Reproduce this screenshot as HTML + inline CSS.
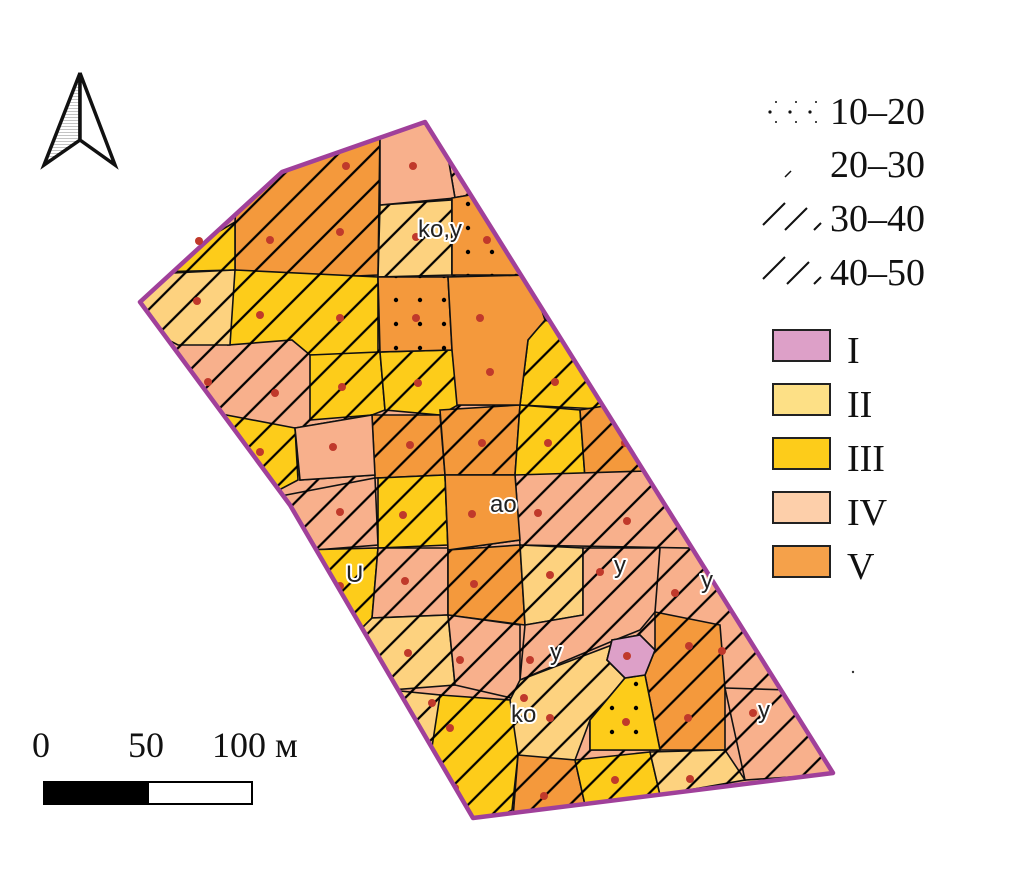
<!DOCTYPE html>
<html><head><meta charset="utf-8"><style>
html,body{margin:0;padding:0;background:#fff}
svg{display:block}
text{font-family:"Liberation Serif",serif;fill:#111}
.lb{font-family:"Liberation Sans",sans-serif;font-size:24px;fill:#222;stroke:#fff;stroke-width:4px;paint-order:stroke;stroke-linejoin:round}
</style></head><body>
<svg width="1011" height="874" viewBox="0 0 1011 874" xmlns="http://www.w3.org/2000/svg">
<defs>
<clipPath id="out"><polygon points="140,302 282,172 425,122 833,773 473,818 290,505"/></clipPath>
<pattern id="h" width="24" height="24" patternUnits="userSpaceOnUse" patternTransform="rotate(-45)">
<line x1="0" y1="12" x2="24" y2="12" stroke="#000" stroke-width="2.2"/></pattern>
<pattern id="d" width="24" height="24" patternUnits="userSpaceOnUse">
<circle cx="12" cy="12" r="2.2" fill="#000"/></pattern>
<pattern id="g" width="3" height="3" patternUnits="userSpaceOnUse"><line x1="0" y1="0" x2="3" y2="0" stroke="#888" stroke-width="1"/></pattern>
</defs>
<g clip-path="url(#out)" stroke="#111" stroke-width="1.6">
<rect x="130" y="110" width="720" height="720" fill="#f8b08c" stroke="none"/>
<polygon fill="#f4993c" points="240,140 380,130 378,275 310,278 235,270 235,222"/>
<polygon fill="#fdcc1a" points="150,272 235,222 235,270"/>
<polygon fill="#f8b08c" points="380,130 440,110 455,198 380,205"/>
<polygon fill="#fdd27f" points="380,205 452,200 452,275 378,277"/>
<polygon fill="#f4993c" points="452,198 500,190 530,275 452,275"/>
<polygon fill="#fdcc1a" points="235,270 378,277 378,355 310,355 292,340 228,345 230,300"/>
<polygon fill="#fdd27f" points="130,275 235,270 230,345 178,345 130,320"/>
<polygon fill="#f4993c" points="378,277 448,277 452,350 380,352"/>
<polygon fill="#f4993c" points="448,277 530,275 545,320 528,340 520,405 457,405 452,350"/>
<polygon fill="#fdcc1a" points="545,320 600,340 620,410 520,405 528,340"/>
<polygon fill="#fdcc1a" points="310,355 380,352 385,410 372,415 310,420"/>
<polygon fill="#fdcc1a" points="380,352 452,350 458,405 440,415 385,410"/>
<polygon fill="#fdcc1a" points="200,410 295,428 298,480 260,500"/>
<polygon fill="#f8b08c" points="295,428 372,415 375,475 300,480"/>
<polygon fill="#f4993c" points="372,415 440,415 445,475 375,478"/>
<polygon fill="#f4993c" points="440,410 520,405 515,475 445,475"/>
<polygon fill="#fdcc1a" points="520,405 580,410 585,478 515,475"/>
<polygon fill="#f4993c" points="580,410 640,400 660,470 585,478"/>
<polygon fill="#f8b08c" points="260,500 375,478 378,545 315,550"/>
<polygon fill="#fdcc1a" points="378,478 445,475 448,545 378,548"/>
<polygon fill="#f4993c" points="445,475 515,475 520,540 448,550"/>
<polygon fill="#f8b08c" points="515,475 680,470 690,548 520,545"/>
<polygon fill="#fdcc1a" points="300,550 378,548 372,618 340,650"/>
<polygon fill="#f8b08c" points="378,548 448,548 448,615 372,618"/>
<polygon fill="#f4993c" points="448,550 520,545 525,625 448,615"/>
<polygon fill="#fdd27f" points="520,545 583,548 583,615 525,625"/>
<polygon fill="#f8b08c" points="583,548 660,548 655,612 640,630 615,640 520,680 525,625 583,615"/>
<polygon fill="#fdd27f" points="340,650 372,618 448,615 455,685 390,690"/>
<polygon fill="#f8b08c" points="448,615 520,625 520,700 455,685"/>
<polygon fill="#f4993c" points="655,612 720,625 725,688 725,750 650,750 645,675 655,650"/>
<polygon fill="#fdd27f" points="520,680 612,645 607,660 625,678 590,720 575,760 515,760 510,700"/>
<polygon fill="#fdcc1a" points="625,678 645,675 660,750 590,750 590,720"/>
<polygon fill="#fdcc1a" points="440,695 510,700 518,755 512,810 475,830 420,760"/>
<polygon fill="#fdd27f" points="390,690 440,695 430,760 380,720"/>
<polygon fill="#f4993c" points="518,755 575,760 585,805 512,830"/>
<polygon fill="#fdcc1a" points="575,760 650,752 660,795 585,805"/>
<polygon fill="#fdd27f" points="650,752 725,750 745,780 660,795"/>
<polygon fill="#f8b08c" points="725,688 790,690 850,773 745,780"/>
<polygon fill="#dda0c8" points="612,640 640,635 655,650 645,675 625,678 607,660"/>
<rect x="130" y="110" width="720" height="720" fill="url(#h)" stroke="none"/>
<polygon fill="#f8b08c" points="380,130 440,110 455,198 380,205"/>
<polygon fill="#f4993c" points="452,198 500,190 530,275 452,275"/>
<polygon fill="url(#d)" stroke="none" points="452,198 500,190 530,275 452,275"/>
<polygon fill="#f4993c" points="378,277 448,277 452,350 380,352"/>
<polygon fill="url(#d)" stroke="none" points="378,277 448,277 452,350 380,352"/>
<polygon fill="#f4993c" points="448,277 530,275 545,320 528,340 520,405 457,405 452,350"/>
<polygon fill="#f8b08c" points="295,428 372,415 375,475 300,480"/>
<polygon fill="#f4993c" points="445,475 515,475 520,540 448,550"/>
<polygon fill="#fdcc1a" points="625,678 645,675 660,750 590,750 590,720"/>
<polygon fill="url(#d)" stroke="none" points="625,678 645,675 660,750 590,750 590,720"/>
<polygon fill="#dda0c8" points="612,640 640,635 655,650 645,675 625,678 607,660"/>
<g fill="#c0392b" stroke="none">
<circle cx="346" cy="166" r="4"/><circle cx="413" cy="166" r="4"/><circle cx="340" cy="232" r="4"/><circle cx="270" cy="240" r="4"/>
<circle cx="416" cy="237" r="4"/><circle cx="487" cy="240" r="4"/><circle cx="197" cy="301" r="4"/><circle cx="260" cy="315" r="4"/>
<circle cx="340" cy="318" r="4"/><circle cx="416" cy="318" r="4"/><circle cx="480" cy="318" r="4"/><circle cx="490" cy="372" r="4"/>
<circle cx="208" cy="382" r="4"/><circle cx="275" cy="393" r="4"/><circle cx="342" cy="387" r="4"/><circle cx="418" cy="383" r="4"/>
<circle cx="555" cy="382" r="4"/><circle cx="260" cy="452" r="4"/><circle cx="333" cy="447" r="4"/><circle cx="410" cy="445" r="4"/>
<circle cx="482" cy="443" r="4"/><circle cx="548" cy="443" r="4"/><circle cx="625" cy="443" r="4"/><circle cx="340" cy="512" r="4"/>
<circle cx="403" cy="515" r="4"/><circle cx="472" cy="514" r="4"/><circle cx="538" cy="513" r="4"/><circle cx="627" cy="521" r="4"/>
<circle cx="340" cy="586" r="4"/><circle cx="405" cy="581" r="4"/><circle cx="474" cy="584" r="4"/><circle cx="550" cy="575" r="4"/>
<circle cx="600" cy="572" r="4"/><circle cx="675" cy="593" r="4"/><circle cx="408" cy="653" r="4"/><circle cx="460" cy="660" r="4"/>
<circle cx="530" cy="660" r="4"/><circle cx="627" cy="656" r="4"/><circle cx="689" cy="646" r="4"/><circle cx="722" cy="651" r="4"/>
<circle cx="432" cy="703" r="4"/><circle cx="450" cy="728" r="4"/><circle cx="524" cy="698" r="4"/><circle cx="550" cy="718" r="4"/>
<circle cx="626" cy="722" r="4"/><circle cx="688" cy="718" r="4"/><circle cx="753" cy="713" r="4"/><circle cx="455" cy="788" r="4"/>
<circle cx="544" cy="796" r="4"/><circle cx="615" cy="780" r="4"/><circle cx="690" cy="779" r="4"/>
</g>
</g>
<polygon points="140,302 282,172 425,122 833,773 473,818 290,505" fill="none" stroke="#a0409a" stroke-width="4.5" stroke-linejoin="round"/>
<circle cx="199" cy="241" r="4" fill="#c0392b"/>
<text class="lb" x="418" y="237">ko,y</text>
<text class="lb" x="490" y="512">ao</text>
<text class="lb" x="346" y="582">U</text>
<text class="lb" x="614" y="573">y</text>
<text class="lb" x="701" y="588">y</text>
<text class="lb" x="550" y="660">y</text>
<text class="lb" x="511" y="722">ko</text>
<text class="lb" x="758" y="718">y</text>
<polygon points="80,73 44,165 80,140" fill="url(#g)" stroke="#111" stroke-width="3.5" stroke-linejoin="miter"/>
<polygon points="80,73 115,165 80,140" fill="#fff" stroke="#111" stroke-width="3.5"/>
<text x="32" y="757" font-size="36">0</text>
<text x="128" y="757" font-size="36">50</text>
<text x="212" y="757" font-size="36">100 м</text>
<rect x="44" y="782" width="104" height="22" fill="#000" stroke="#000" stroke-width="2"/>
<rect x="148" y="782" width="104" height="22" fill="#fff" stroke="#000" stroke-width="2"/>
<g fill="#111"><circle cx="770" cy="112" r="1.6"/><circle cx="790" cy="112" r="1.6"/><circle cx="810" cy="112" r="1.6"/>
<circle cx="776" cy="102" r="1"/><circle cx="796" cy="102" r="1"/><circle cx="816" cy="102" r="1"/>
<circle cx="776" cy="122" r="1"/><circle cx="796" cy="122" r="1"/><circle cx="816" cy="122" r="1"/></g>
<text x="830" y="124" font-size="38">10–20</text>
<line x1="785" y1="177" x2="791" y2="171" stroke="#111" stroke-width="1.5"/>
<text x="830" y="177" font-size="38">20–30</text>
<g stroke="#111" stroke-width="2"><line x1="763" y1="225" x2="785" y2="203"/><line x1="785" y1="230" x2="807" y2="208"/><line x1="814" y1="230" x2="821" y2="223"/>
<line x1="763" y1="279" x2="785" y2="257"/><line x1="787" y1="284" x2="809" y2="262"/><line x1="814" y1="284" x2="821" y2="277"/></g>
<text x="830" y="231" font-size="38">30–40</text>
<text x="830" y="285" font-size="38">40–50</text>
<g stroke="#222" stroke-width="2">
<rect x="773" y="330" width="57" height="31" fill="#dda0c8"/>
<rect x="773" y="384" width="57" height="31" fill="#fde086"/>
<rect x="773" y="438" width="57" height="31" fill="#fdcc1a"/>
<rect x="773" y="492" width="57" height="31" fill="#fdcfaa"/>
<rect x="773" y="546" width="57" height="31" fill="#f5a14a"/></g>
<text x="847" y="363" font-size="38">I</text>
<text x="847" y="417" font-size="38">II</text>
<text x="847" y="471" font-size="38">III</text>
<text x="847" y="525" font-size="38">IV</text>
<text x="847" y="579" font-size="38">V</text>
<circle cx="853" cy="672" r="1.2" fill="#333"/>
</svg>
</body></html>
